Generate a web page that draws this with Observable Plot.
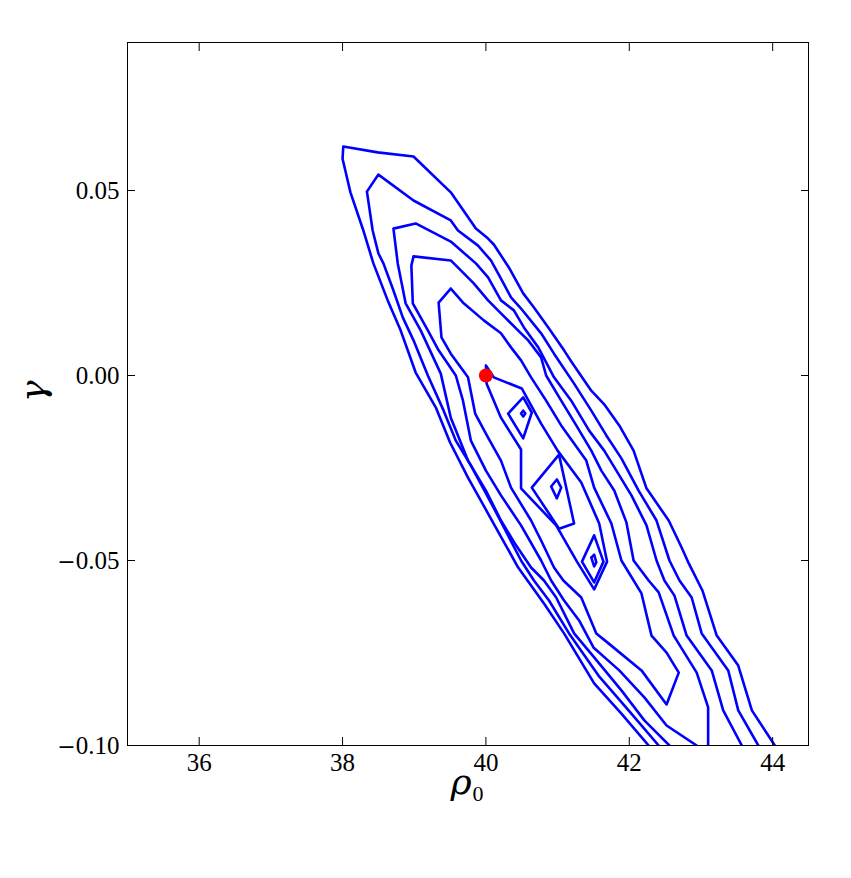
<!DOCTYPE html>
<html><head><meta charset="utf-8">
<script src="https://cdn.jsdelivr.net/npm/d3@7"></script>
<script src="https://cdn.jsdelivr.net/npm/@observablehq/plot@0.6"></script>
<style>html,body{margin:0;padding:0;background:#fff}</style>
</head><body><div id="chart"></div>
<script>
// tick values
const xTicks = [36, 38, 40, 42, 44];
const yTicks = [-0.10, -0.05, 0.00, 0.05];

// contour lines (rho0, gamma)
const contour1 = [[42.27,-0.1],[41.89,-0.0914],[41.51,-0.0832],[41.09,-0.0697],[40.81,-0.0616],[40.45,-0.0519],[40.24,-0.0446],[40.03,-0.0373],[39.75,-0.0276],[39.50,-0.0181],[39.30,-0.0086],[39.02,0.0008],[38.81,0.0122],[38.63,0.0203],[38.43,0.0303],[38.29,0.0392],[38.11,0.0495],[38.00,0.0586],[38.01,0.0619],[38.49,0.0603],[38.99,0.0592],[39.51,0.0495],[39.86,0.0397],[40.03,0.0370],[40.11,0.0354],[40.32,0.0292],[40.52,0.0222],[40.67,0.0184],[40.87,0.0130],[41.09,0.0068],[41.20,0.0035],[41.47,-0.0041],[41.65,-0.0078],[41.86,-0.0135],[42.06,-0.0203],[42.24,-0.0305],[42.55,-0.0392],[42.73,-0.0465],[42.83,-0.0508],[43.02,-0.0581],[43.22,-0.0703],[43.52,-0.0784],[43.71,-0.0905],[44.03,-0.1]];
const contour2 = [[42.41,-0.1],[41.99,-0.0905],[41.57,-0.0811],[41.16,-0.0697],[40.88,-0.0608],[40.67,-0.0554],[40.49,-0.05],[40.26,-0.0414],[40.09,-0.0351],[39.79,-0.0243],[39.58,-0.0176],[39.41,-0.0095],[39.19,0.0],[38.99,0.0095],[38.84,0.0157],[38.70,0.0235],[38.57,0.0303],[38.50,0.0330],[38.42,0.0392],[38.34,0.0497],[38.50,0.0543],[38.99,0.0473],[39.51,0.0419],[39.61,0.0392],[39.89,0.0351],[40.07,0.0311],[40.21,0.0262],[40.35,0.0211],[40.49,0.0181],[40.77,0.0114],[40.95,0.0059],[41.23,-0.0022],[41.47,-0.0095],[41.68,-0.0162],[41.89,-0.0224],[42.13,-0.0311],[42.38,-0.0392],[42.56,-0.05],[42.70,-0.0554],[42.87,-0.06],[43.01,-0.0697],[43.38,-0.0797],[43.52,-0.0905],[43.80,-0.1]];
const contour3 = [[42.56,-0.1],[42.21,-0.0932],[41.89,-0.0851],[41.51,-0.0762],[41.23,-0.0697],[40.98,-0.06],[40.81,-0.0554],[40.63,-0.0519],[40.42,-0.0459],[40.21,-0.0392],[40.00,-0.0311],[39.75,-0.0230],[39.51,-0.0114],[39.37,0.0005],[39.09,0.0122],[38.88,0.0195],[38.77,0.0303],[38.71,0.0397],[39.02,0.0411],[39.51,0.0362],[39.86,0.0303],[40.03,0.0265],[40.21,0.0203],[40.39,0.0176],[40.53,0.0130],[40.73,0.0076],[40.95,-0.0005],[41.19,-0.0068],[41.44,-0.0149],[41.65,-0.0203],[41.82,-0.0257],[42.03,-0.0324],[42.24,-0.0405],[42.38,-0.05],[42.49,-0.0554],[42.63,-0.0595],[42.80,-0.0703],[43.15,-0.0797],[43.31,-0.0905],[43.57,-0.1]];
const contour4 = [[42.94,-0.1],[42.52,-0.0946],[42.21,-0.0870],[41.86,-0.0797],[41.50,-0.0735],[41.30,-0.0662],[41.09,-0.0608],[40.91,-0.0554],[40.77,-0.05],[40.49,-0.0405],[40.21,-0.0324],[40.00,-0.0257],[39.79,-0.0176],[39.68,-0.0068],[39.58,0.0],[39.34,0.0068],[39.19,0.0122],[38.98,0.0195],[38.96,0.0297],[38.99,0.0322],[39.51,0.0311],[39.65,0.0284],[39.83,0.0249],[40.03,0.0203],[40.21,0.0168],[40.49,0.0114],[40.59,0.0095],[40.77,0.0049],[40.84,0.0],[41.05,-0.0068],[41.26,-0.0135],[41.47,-0.0203],[41.61,-0.0257],[41.79,-0.0311],[41.96,-0.0397],[42.06,-0.05],[42.27,-0.0554],[42.41,-0.0586],[42.62,-0.0703],[42.94,-0.0803],[43.10,-0.0897],[43.10,-0.1]];
const contour5 = [[39.51,0.0235],[39.69,0.0195],[39.97,0.0149],[40.21,0.0114],[40.35,0.0076],[40.49,0.0041],[40.63,-0.0005],[40.84,-0.0068],[41.05,-0.0135],[41.30,-0.0203],[41.40,-0.0230],[41.51,-0.0303],[41.75,-0.04],[41.89,-0.05],[42.17,-0.0589],[42.31,-0.0703],[42.52,-0.0749],[42.69,-0.0803],[42.52,-0.0889],[42.17,-0.0797],[41.71,-0.0724],[41.54,-0.0697],[41.33,-0.06],[41.08,-0.0554],[40.95,-0.0519],[40.77,-0.0446],[40.63,-0.0392],[40.35,-0.0303],[40.21,-0.0230],[40.03,-0.0168],[39.85,-0.0103],[39.75,-0.0005],[39.51,0.0059],[39.38,0.0103],[39.34,0.0197],[39.51,0.0235]];
const contour6 = [[40.00,0.0027],[40.11,-0.0005],[40.50,-0.0035],[40.77,-0.0130],[41.00,-0.0203],[41.33,-0.0289],[41.58,-0.04],[41.69,-0.0503],[41.51,-0.0578],[41.27,-0.0503],[40.98,-0.0405],[40.49,-0.0305],[40.49,-0.02],[40.21,-0.0114],[40.01,-0.0022],[40.00,0.0027]];
const peakA = [[40.31,-0.0103],[40.52,-0.0059],[40.64,-0.0100],[40.52,-0.0170],[40.31,-0.0103]];
const peakAInner = [[40.49,-0.0103],[40.52,-0.0095],[40.55,-0.0103],[40.52,-0.0111],[40.49,-0.0103]];
const peakB = [[41.02,-0.0214],[40.64,-0.0303],[41.02,-0.0414],[41.23,-0.04],[41.02,-0.0214]];
const peakBInner = [[40.91,-0.03],[40.99,-0.0281],[41.05,-0.0303],[40.99,-0.0332],[40.91,-0.03]];
const peakC = [[41.51,-0.0432],[41.34,-0.0503],[41.51,-0.0559],[41.64,-0.0503],[41.51,-0.0432]];
const peakCInner = [[41.47,-0.0492],[41.51,-0.0484],[41.54,-0.0505],[41.51,-0.0516],[41.47,-0.0492]];

const optimum = [{rho: 40.0, gamma: 0.0}];

const contours = {contour1, contour2, contour3, contour4, contour5, contour6, peakA, peakAInner, peakB, peakBInner, peakC, peakCInner};
const rows = Object.entries(contours).flatMap(([id, pts]) => pts.map(([rho, gamma]) => ({id, rho, gamma})));

const fmtY = d => (d < 0 ? "\u2212" : "") + Math.abs(d).toFixed(2);
const font = "'Liberation Serif', 'DejaVu Serif', serif";

const plot = Plot.plot({
  width: 851, height: 878,
  marginLeft: 127, marginRight: 43, marginTop: 42, marginBottom: 133,
  x: {domain: [35, 44.5]},
  y: {domain: [-0.10, 0.09]},
  style: {fontFamily: font, fontSize: "25px", background: "white", color: "black"},
  marks: [
    Plot.line(rows, {x: "rho", y: "gamma", z: "id", stroke: "#0000ff", strokeWidth: 2.6, clip: true}),
    Plot.dot(optimum, {x: "rho", y: "gamma", r: 7, fill: "#ff0000", stroke: "none"}),
    Plot.frame({stroke: "black", strokeWidth: 1}),
    Plot.axisX({ticks: xTicks, anchor: "bottom", tickSize: -8, tickFormat: () => "", label: null}),
    Plot.axisX({ticks: xTicks, anchor: "top", tickSize: -8, tickFormat: () => "", label: null}),
    Plot.axisX({ticks: xTicks, anchor: "bottom", tickSize: 0, tickPadding: 8, fontSize: 25, label: null}),
    Plot.axisY({ticks: yTicks, anchor: "left", tickSize: -8, tickFormat: () => "", label: null}),
    Plot.axisY({ticks: yTicks, anchor: "right", tickSize: -8, tickFormat: () => "", label: null}),
    Plot.axisY({ticks: yTicks, anchor: "left", tickSize: 0, tickPadding: 8, fontSize: 25, tickFormat: fmtY, label: null}),
    Plot.text(["\u03c1"], {text: d => d, frameAnchor: "bottom", dy: 48, dx: -7, fontSize: 36, fontStyle: "italic", fontFamily: "'DejaVu Serif', serif"}),
    Plot.text(["0"], {text: d => d, frameAnchor: "bottom", dy: 55, dx: 10, fontSize: 22}),
    Plot.text(["\u03b3"], {text: d => d, frameAnchor: "left", dx: -94, dy: 8, rotate: -90, fontSize: 36, fontStyle: "italic", fontFamily: "'DejaVu Serif', serif"})
  ]
});
// draw the minus sign of negative tick labels in a wider glyph, as in the original
d3.select(plot).selectAll("text").filter(function () { return this.textContent.startsWith("\u2212"); })
  .each(function () {
    const rest = this.textContent.slice(1);
    const t = d3.select(this).text("");
    t.append("tspan").attr("font-family", "'DejaVu Serif', serif").attr("font-size", 22).text("\u2212");
    t.append("tspan").text(rest);
  });
document.getElementById("chart").append(plot);
</script>
</body></html>
